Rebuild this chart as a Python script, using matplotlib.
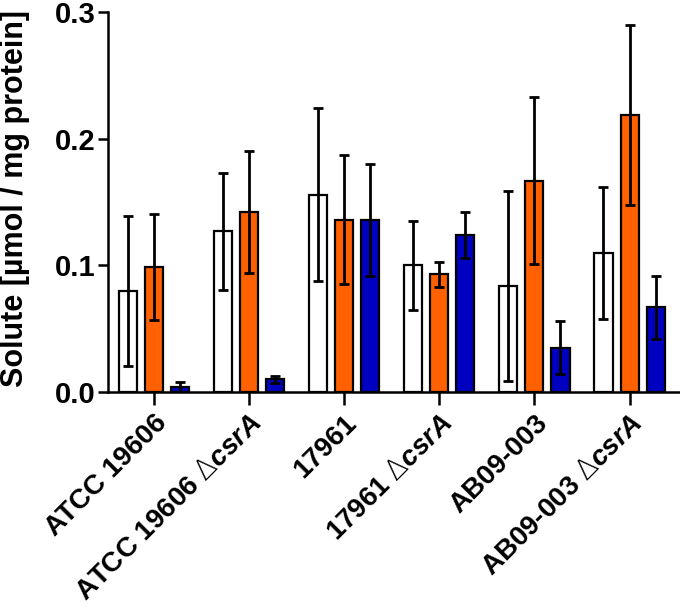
import numpy as np
import matplotlib
matplotlib.use('Agg')
import matplotlib.pyplot as plt

plt.rcParams['font.family'] = 'sans-serif'
plt.rcParams['font.sans-serif'] = ['Liberation Sans', 'DejaVu Sans']
plt.rcParams['font.weight'] = 'bold'
plt.rcParams['mathtext.fontset'] = 'custom'
plt.rcParams['mathtext.rm'] = 'DejaVu Sans:weight=light'
plt.rcParams['mathtext.it'] = 'Liberation Sans:italic:bold'
plt.rcParams['mathtext.bf'] = 'Liberation Sans:bold'

# ==================== data ====================
strains = ['ATCC 19606', r'ATCC 19606 $\Delta csrA$', '17961',
           r'17961 $\Delta csrA$', 'AB09-003', r'AB09-003 $\Delta csrA$']

white_mean = [0.080, 0.127, 0.156, 0.100, 0.084, 0.110]
white_err = [0.059, 0.046, 0.068, 0.035, 0.075, 0.052]
orange_mean = [0.099, 0.142, 0.136, 0.093, 0.167, 0.219]
orange_err = [0.042, 0.048, 0.051, 0.010, 0.066, 0.071]
blue_mean = [0.004, 0.010, 0.136, 0.124, 0.035, 0.067]
blue_err = [0.004, 0.003, 0.044, 0.018, 0.021, 0.025]

y_ticks = [0.0, 0.1, 0.2, 0.3]

series = [
    (white_mean, white_err, 'white'),
    (orange_mean, orange_err, '#FF6000'),
    (blue_mean, blue_err, '#0000C0'),
]

fig = plt.figure(figsize=(6.8, 6.07), dpi=100)
ax = fig.add_axes([0.159, 0.354, 0.841, 0.626])

x = np.arange(len(strains))
step = 0.274
width = 0.19

for i, (m, e, c) in enumerate(series):
    pos = x + (i - 1) * step
    ax.bar(pos, m, width=width, color=c, edgecolor='black', linewidth=1.6, zorder=2)
    ax.errorbar(pos, m, yerr=e, fmt='none', ecolor='black', elinewidth=2,
                capsize=3.5, capthick=2, zorder=3)

ax.set_xlim(-0.48, 5.53)
ax.set_ylim(0, 0.3)
ax.set_yticks(y_ticks)
ax.set_yticklabels([f'{t:.1f}' for t in y_ticks], fontsize=21, fontweight='bold')
ax.set_xticks(x)
ax.set_xticklabels(strains, rotation=45, ha='right', rotation_mode='anchor',
                   fontsize=20, fontweight='bold')
ax.set_ylabel('Solute [µmol / mg protein]', fontsize=22, fontweight='bold')
ax.yaxis.set_label_coords(-0.137, 0.51)

for side in ['top', 'right']:
    ax.spines[side].set_visible(False)
for side in ['left', 'bottom']:
    ax.spines[side].set_linewidth(1.8)
ax.tick_params(axis='y', direction='out', length=7, width=1.8, pad=2)
ax.tick_params(axis='x', direction='out', length=9, width=1.8, pad=4)

plt.savefig('out.png', dpi=100)
